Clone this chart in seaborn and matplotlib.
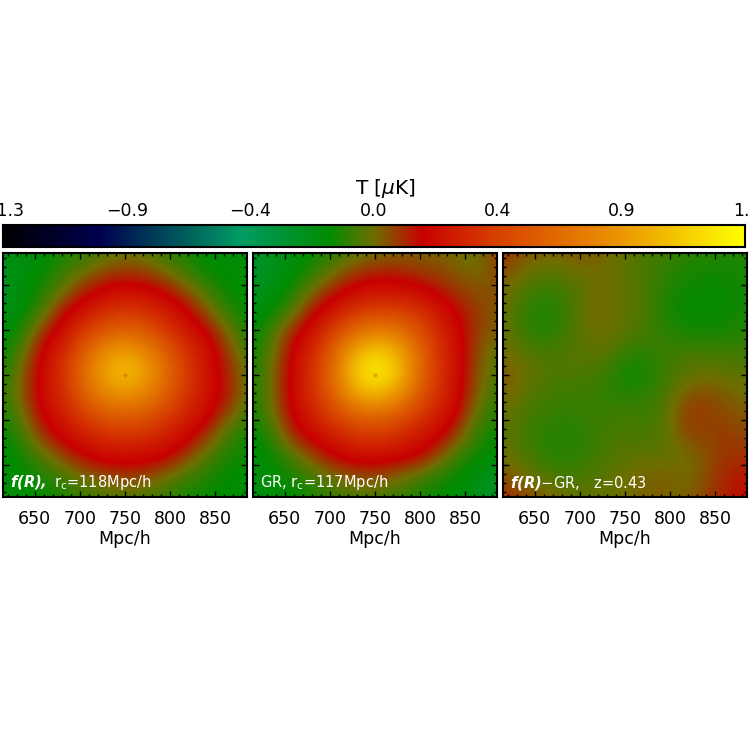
import numpy as np
import matplotlib
matplotlib.use("Agg")
import matplotlib.pyplot as plt
from matplotlib.colors import LinearSegmentedColormap
import seaborn as sns

sns.set_theme(style="white")
plt.rcParams["font.family"] = ["DejaVu Sans"]
plt.rcParams["mathtext.fontset"] = "dejavusans"

V_MIN, V_MAX = -1.3, 1.3
BAR_TICK_LABELS = ["\u22121.3", "\u22120.9", "\u22120.4", "0.0", "0.4", "0.9", "1.3"]
X_TICKS = [650, 700, 750, 800, 850]
X_RANGE = (615, 885)

CMAP_STOPS = [
    (0.00, "#000000"), (0.13, "#000050"), (0.32, "#009B64"), (0.44, "#008C00"),
    (0.50, "#6E6E00"), (0.565, "#C80000"), (0.667, "#D74100"), (0.833, "#EB9600"),
    (1.00, "#FFFF00"),
]

FR = [
    [-.20,-.20,-.17,-.13,-.09,-.05,-.02,-.04,-.08,-.13,-.16,-.18,-.18],
    [-.24,-.19,-.14,-.07,-.01,.06,.09,.07,.00,-.07,-.14,-.17,-.18],
    [-.25,-.19,-.10,.00,.13,.21,.24,.22,.17,.06,-.05,-.14,-.17],
    [-.23,-.15,-.04,.17,.26,.36,.40,.38,.28,.20,.05,-.08,-.15],
    [-.19,-.09,.11,.24,.42,.58,.65,.58,.42,.28,.19,.02,-.11],
    [-.15,-.02,.20,.34,.60,.85,.95,.82,.60,.38,.24,.10,-.06],
    [-.12,.03,.22,.38,.66,.92,1.05,.92,.66,.42,.24,.13,-.03],
    [-.10,.04,.22,.34,.58,.78,.84,.76,.58,.38,.24,.14,-.02],
    [-.12,-.01,.19,.28,.42,.54,.58,.54,.42,.30,.21,.05,-.07],
    [-.16,-.06,.09,.21,.28,.35,.37,.35,.29,.22,.08,-.06,-.13],
    [-.18,-.13,-.03,.06,.17,.21,.22,.21,.18,.07,-.04,-.11,-.15],
    [-.18,-.16,-.11,-.06,.00,.05,.08,.06,.00,-.06,-.11,-.15,-.17],
    [-.18,-.17,-.15,-.12,-.08,-.06,-.05,-.06,-.09,-.13,-.15,-.16,-.18],
]
GR = [
    [-.28,-.24,-.20,-.14,-.09,-.04,-.01,.01,.02,.02,.00,-.02,.08],
    [-.30,-.24,-.17,-.09,-.01,.08,.12,.12,.09,.06,.04,.00,.06],
    [-.26,-.19,-.10,.02,.14,.22,.25,.25,.23,.16,.09,.05,.04],
    [-.20,-.13,-.03,.17,.27,.40,.46,.46,.40,.28,.17,.08,.03],
    [-.16,-.05,.14,.26,.46,.68,.80,.75,.56,.36,.21,.07,.02],
    [-.14,-.01,.19,.34,.62,.98,1.13,1.03,.70,.40,.23,.05,-.03],
    [-.12,.01,.21,.38,.68,1.08,1.24,1.10,.72,.40,.23,.04,-.05],
    [-.12,.01,.21,.36,.60,.90,1.00,.88,.60,.36,.22,.02,-.08],
    [-.14,-.01,.19,.29,.44,.58,.62,.56,.42,.29,.18,-.04,-.10],
    [-.17,-.08,.11,.21,.29,.37,.39,.35,.27,.21,.06,-.09,-.14],
    [-.18,-.14,-.04,.06,.17,.21,.23,.20,.18,.06,-.07,-.13,-.18],
    [-.20,-.17,-.12,-.06,.00,.05,.06,.02,-.04,-.10,-.14,-.20,-.25],
    [-.20,-.18,-.16,-.12,-.08,-.06,-.06,-.08,-.12,-.15,-.17,-.23,-.30],
]
DIFF = [
    [.11,.05,.02,.03,.04,.02,-.02,-.05,-.07,-.09,-.10,-.11,-.11],
    [.05,.00,-.03,-.02,.00,.00,-.03,-.05,-.09,-.12,-.13,-.13,-.12],
    [.01,-.05,-.09,-.07,-.02,.01,-.02,-.05,-.11,-.14,-.15,-.15,-.12],
    [.00,-.09,-.12,-.09,.00,.01,-.02,-.05,-.12,-.15,-.15,-.14,-.12],
    [.00,-.07,-.11,-.07,-.02,.00,-.03,-.06,-.09,-.12,-.13,-.12,-.10],
    [.01,-.03,-.05,-.04,-.03,-.02,-.09,-.10,-.07,-.05,-.05,-.06,-.06],
    [.04,.01,-.04,-.05,-.05,-.07,-.14,-.13,-.07,-.03,-.01,-.02,-.03],
    [.02,-.02,-.06,-.07,-.07,-.09,-.10,-.09,-.05,.04,.06,.03,.00],
    [-.01,-.05,-.08,-.09,-.08,-.07,-.06,-.07,-.04,.09,.07,.06,.03],
    [-.02,-.06,-.10,-.11,-.09,-.06,-.05,-.06,-.03,.05,.07,.08,.06],
    [.00,-.04,-.09,-.10,-.09,-.05,-.03,-.02,-.02,.00,.04,.09,.10],
    [.05,.00,-.04,-.06,-.05,-.03,.00,.02,.03,.00,.05,.12,.14],
    [.11,.07,.03,.00,-.02,-.02,.00,.02,.02,.02,.07,.13,.16],
]
PANEL_LABELS = [
    r"$\mathbfit{f(R),}$ r$_{\mathrm{c}}$=118Mpc/h",
    r"GR, r$_{\mathrm{c}}$=117Mpc/h",
    r"$\mathbfit{f(R)}$$-$GR,   z=0.43",
]
PANELS = [FR, GR, DIFF]
PANEL_LEFT_PX = [3, 253, 503]

W = H = 750.0
cmap = LinearSegmentedColormap.from_list("cosmo", CMAP_STOPS, N=512)
fig = plt.figure(figsize=(7.5, 7.5), dpi=100, facecolor="white")


def px_axes(x0, y0, x1, y1):
    return fig.add_axes([x0 / W, 1 - y1 / H, (x1 - x0) / W, (y1 - y0) / H])


# colour bar strip drawn as a seaborn heatmap
cax = px_axes(3, 225, 745, 247)
strip = np.linspace(V_MIN, V_MAX, 512)[None, :]
sns.heatmap(strip, ax=cax, cmap=cmap, vmin=V_MIN, vmax=V_MAX, cbar=False,
            xticklabels=False, yticklabels=False, rasterized=True)
tick_pos = np.linspace(0, 512, len(BAR_TICK_LABELS))
cax.set_xticks(tick_pos[1:-1])
cax.set_xticklabels([])
cax.tick_params(axis="x", which="major", direction="in", length=2.5, width=1,
                top=True, bottom=True, color="black")
for s in cax.spines.values():
    s.set_visible(True)
    s.set_color("black")
    s.set_linewidth(1.5)
label_x = [3, 127, 250, 374, 498, 622, 747]
for lab, xp in zip(BAR_TICK_LABELS, label_x):
    fig.text(xp / W, 1 - 211 / H, lab, ha="center", va="center",
             fontsize=12.5, color="black")
fig.text(385 / W, 1 - 188 / H, r"T [$\mathit{\mu}$K]", ha="center", va="center",
         fontsize=14.5, color="black")

# three field panels
half = (X_RANGE[1] - X_RANGE[0]) / 12 / 2
for grid, x0, label in zip(PANELS, PANEL_LEFT_PX, PANEL_LABELS):
    ax = px_axes(x0, 253, x0 + 244, 497)
    ax.imshow(np.array(grid), cmap=cmap, vmin=V_MIN, vmax=V_MAX,
              interpolation="bicubic", interpolation_stage="data",
              extent=(X_RANGE[0] - half, X_RANGE[1] + half,
                      X_RANGE[0] - half, X_RANGE[1] + half),
              origin="upper", aspect="auto")
    ax.set_xlim(*X_RANGE)
    ax.set_ylim(*X_RANGE)
    ax.set_xticks(X_TICKS)
    ax.set_yticks(X_TICKS)
    ax.set_yticklabels([])
    ax.set_xticks(np.arange(620, 885, 10), minor=True)
    ax.set_yticks(np.arange(620, 885, 10), minor=True)
    ax.tick_params(which="major", direction="in", length=4, width=1, top=True,
                   right=True, left=True, bottom=True, color="black",
                   labelsize=12.5, labelcolor="black", pad=9)
    ax.tick_params(which="minor", direction="in", length=2, width=1, top=True,
                   right=True, left=True, bottom=True, color="black")
    ax.set_xlabel("Mpc/h", fontsize=12.5, color="black", labelpad=2)
    for s in ax.spines.values():
        s.set_visible(True)
        s.set_color("black")
        s.set_linewidth(1.5)
    ax.text(7 / 244, 10 / 244, label, transform=ax.transAxes, color="white",
            fontsize=10.5, ha="left", va="baseline")
    if grid is not DIFF:
        ax.scatter([750], [750], s=8, color="#D23C00", alpha=0.35, linewidths=0)

fig.savefig("out.png", dpi=100, facecolor="white")
